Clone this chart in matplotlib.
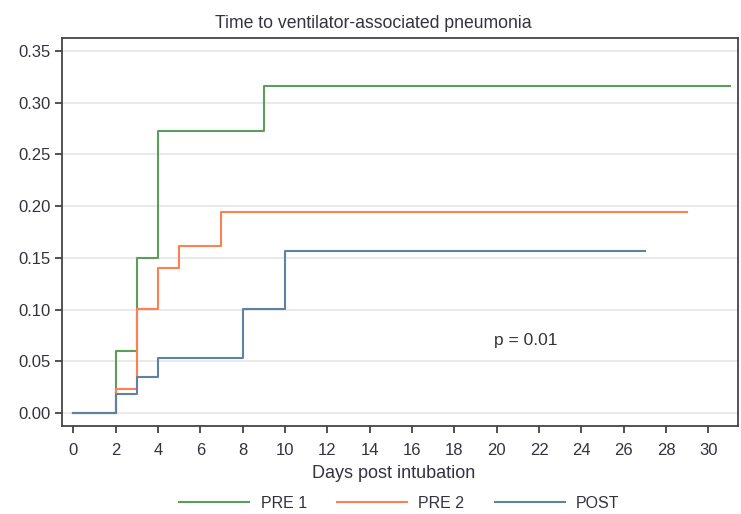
import numpy as np
import matplotlib.pyplot as plt

plt.rcParams['font.family'] = ['Liberation Sans', 'DejaVu Sans']

# step times (days) and cumulative incidence
pre1_days = [0, 2, 3, 4, 9, 31]
pre1_vals = [0.0, 0.06, 0.15, 0.273, 0.316, 0.316]
pre2_days = [0, 2, 3, 4, 5, 7, 29]
pre2_vals = [0.0, 0.023, 0.101, 0.14, 0.162, 0.194, 0.194]
post_days = [0, 2, 3, 4, 8, 10, 27]
post_vals = [0.0, 0.019, 0.035, 0.053, 0.101, 0.157, 0.157]

series = [("PRE 1", pre1_days, pre1_vals, '#5b9e5b'),
          ("PRE 2", pre2_days, pre2_vals, '#ff7f50'),
          ("POST", post_days, post_vals, '#5f82a3')]

xticks = np.arange(0, 31, 2)
yticks = np.arange(0, 0.351, 0.05)
txt = '#333340'

fig = plt.figure(figsize=(7.41, 5.14), dpi=100)
ax = fig.add_axes([0.084, 0.171, 0.912, 0.755])

for y in yticks:
    ax.axhline(y, color='#e6e6e6', lw=1.2, zorder=0)

for name, d, v, c in series:
    ax.plot(d, v, drawstyle='steps-post', color=c, lw=1.5, label=name)

ax.set_xlim(-0.52, 31.4)
ax.set_ylim(-0.0125, 0.3625)
ax.set_xticks(xticks)
ax.set_yticks(yticks)
ax.set_yticklabels([f"{y:.2f}" for y in yticks])
ax.tick_params(direction='out', length=5, width=1.2, color='#333333',
               labelsize=12, labelcolor=txt)
ax.tick_params(axis='x', pad=7)
for s in ax.spines.values():
    s.set_color('#444444')
    s.set_linewidth(1.3)

ax.set_title("Time to ventilator-associated pneumonia", fontsize=12.7, color=txt,
             x=0.46, pad=7)
ax.set_xlabel("Days post intubation", fontsize=13, color=txt)
ax.xaxis.set_label_coords(0.49, -0.1)
ax.text(21.35, 0.07, "p = 0.01", fontsize=12.5, color=txt, ha='center', va='center')

fig.legend(loc='lower center', bbox_to_anchor=(0.539, -0.022), ncol=3, frameon=False,
           handlelength=4.4, columnspacing=1.9, handletextpad=0.7, fontsize=11.5,
           labelcolor=txt)

fig.savefig('out.png', dpi=100)
